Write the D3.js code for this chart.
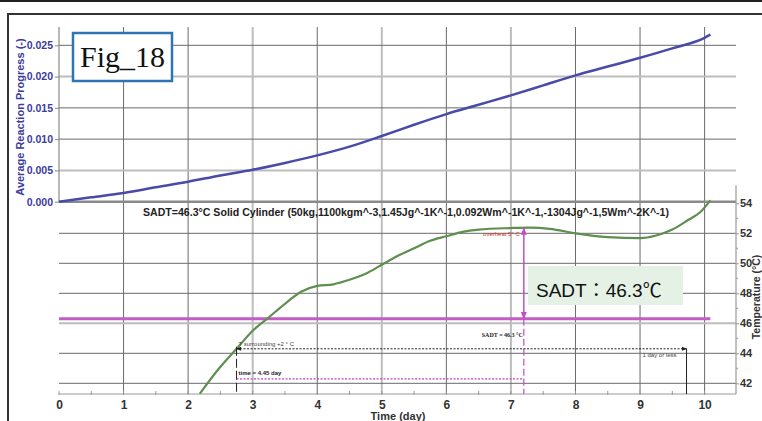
<!DOCTYPE html>
<html>
<head>
<meta charset="utf-8">
<script src="https://cdn.jsdelivr.net/npm/d3@7"></script>
<style>
  body { margin: 0; background: #fff; }
  svg { display: block; }
</style>
</head>
<body>
<svg id="chart" width="762" height="421"></svg>
<script>
//// Data

var progressDays = [0, 0.5, 1, 1.5, 2, 2.5, 3, 3.5, 4, 4.5, 5, 5.5, 6, 6.5, 7, 7.5, 8, 8.5, 9, 9.5, 10, 10.09];
var progress = [0, 0.0007, 0.0014, 0.0023, 0.0032, 0.0042, 0.0051, 0.0062, 0.0074, 0.0088, 0.0105, 0.0123,
                0.0140, 0.0155, 0.0170, 0.0186, 0.0202, 0.0216, 0.0230, 0.0245, 0.0262, 0.0267];

var tempDays = [2.18, 2.5, 2.75, 3, 3.25, 3.5, 3.75, 4, 4.25, 4.5, 4.75, 5, 5.25, 5.5, 5.75, 6, 6.25, 6.5,
                7, 7.3, 7.6, 8, 8.5, 9, 9.25, 9.5, 9.75, 9.93, 10.09];
var temps = [41.3, 43.1, 44.3, 45.5, 46.4, 47.3, 48.1, 48.5, 48.6, 48.9, 49.3, 49.9, 50.5, 51.0, 51.5, 51.8, 52.1, 52.25,
             52.35, 52.38, 52.3, 52.0, 51.75, 51.68, 51.85, 52.25, 52.9, 53.4, 54.2];

var xTicks = [0, 1, 2, 3, 4, 5, 6, 7, 8, 9, 10];
var progressTicks = [0, 0.005, 0.01, 0.015, 0.02, 0.025];
var tempTicks = [42, 44, 46, 48, 50, 52, 54];

// grid lines that print lighter and wider in the original
var lightDays = [3, 5, 7];
var lightProgress = [0.005, 0.02];
var lightTemps = [46];

var sadt = 46.3;
var tStart = 2.75, tEnd = 7.2, tLimit = 9.72;   // time = 4.45 day
var tSurround = 44.3, tTimeLine = 42.3;

var title = 'SADT=46.3\u00B0C Solid Cylinder (50kg,1100kgm^-3,1.45Jg^-1K^-1,0.092Wm^-1K^-1,-1304Jg^-1,5Wm^-2K^-1)';

//// Scales

var svg = d3.select('#chart');

// note: "top" is taken by window.top, so the edges get a prefix
var plotLeft = 59, plotRight = 736, plotTop = 27, plotMid = 202, plotBottom = 394;

var x = d3.scaleLinear().domain([0, 10]).range([59, 704.6]);
var yProg = d3.scaleLinear().domain([0, 0.025]).range([201.7, 45.3]);
var yTemp = d3.scaleLinear().domain([42, 54]).range([383.3, 203.3]);

var defs = svg.append('defs');
var addArrow = function (id, color) {
  defs.append('marker')
      .attr('id', id)
      .attr('viewBox', '0 0 10 10')
      .attr('refX', 9).attr('refY', 5)
      .attr('markerWidth', 5).attr('markerHeight', 5)
      .attr('orient', 'auto-start-reverse')
    .append('path')
      .attr('d', 'M0,1L10,5L0,9z')
      .attr('fill', color);
};
addArrow('arrowM', '#c050c0');
addArrow('arrowK', '#222');

defs.append('clipPath').attr('id', 'plotClip')
  .append('rect')
    .attr('x', plotLeft).attr('y', plotTop)
    .attr('width', plotRight - plotLeft).attr('height', plotBottom - plotTop);

//// Frame

svg.append('rect').attr('x', 0).attr('y', 0).attr('width', 762).attr('height', 2).attr('fill', '#222');
svg.append('path').attr('d', 'M8,421V14H762').attr('fill', 'none').attr('stroke', '#333').attr('stroke-width', 2);

//// Grid

var gridColor = function (list) {
  return function (d) { return list.indexOf(d) >= 0 ? '#bdbdbd' : '#6a6a6a'; };
};
var gridWidth = function (list) {
  return function (d) { return list.indexOf(d) >= 0 ? 2 : 1; };
};

var grid = svg.append('g');

grid.selectAll('.vg')
  .data(xTicks.slice(1))
  .enter().append('line')
    .attr('x1', function (d) { return x(d); })
    .attr('x2', function (d) { return x(d); })
    .attr('y1', plotTop).attr('y2', plotBottom)
    .attr('stroke', gridColor(lightDays))
    .attr('stroke-width', gridWidth(lightDays));

grid.selectAll('.hg')
  .data(progressTicks.slice(1))
  .enter().append('line')
    .attr('x1', plotLeft).attr('x2', plotRight)
    .attr('y1', function (d) { return yProg(d); })
    .attr('y2', function (d) { return yProg(d); })
    .attr('stroke', gridColor(lightProgress))
    .attr('stroke-width', gridWidth(lightProgress));

grid.selectAll('.tg')
  .data(tempTicks.slice(0, -1))
  .enter().append('line')
    .attr('x1', plotLeft).attr('x2', plotRight)
    .attr('y1', function (d) { return yTemp(d); })
    .attr('y2', function (d) { return yTemp(d); })
    .attr('stroke', gridColor(lightTemps))
    .attr('stroke-width', gridWidth(lightTemps));

// shared line: 0.000 / 54
svg.append('line')
    .attr('x1', plotLeft).attr('x2', plotRight)
    .attr('y1', yProg(0)).attr('y2', yProg(0))
    .attr('stroke', '#8a8a8a').attr('stroke-width', 2.5);

//// Axes

svg.append('line')
    .attr('x1', plotLeft).attr('x2', plotLeft).attr('y1', plotTop).attr('y2', plotMid)
    .attr('stroke', '#888').attr('stroke-width', 1.2);

var progAxis = svg.append('g')
    .attr('transform', 'translate(' + plotLeft + ',0)')
    .call(d3.axisLeft(yProg).tickValues(progressTicks).tickFormat(d3.format('.3f')).tickSize(4).tickPadding(2));
progAxis.select('.domain').remove();
progAxis.selectAll('line').attr('stroke', '#888');
progAxis.selectAll('text')
    .attr('fill', '#3b3ba0')
    .attr('font-family', 'Liberation Sans, Arial, sans-serif')
    .attr('font-weight', 'bold')
    .attr('font-size', 10.5);

svg.append('text')
    .attr('transform', 'translate(24,117) rotate(-90)')
    .attr('text-anchor', 'middle')
    .attr('fill', '#3b3ba0')
    .attr('font-family', 'Liberation Sans, Arial, sans-serif')
    .attr('font-weight', 'bold')
    .attr('font-size', 11)
    .text('Average Reaction Progress (-)');

// x axis
svg.append('line')
    .attr('x1', plotLeft).attr('x2', plotRight).attr('y1', plotBottom).attr('y2', plotBottom)
    .attr('stroke', '#999').attr('stroke-width', 1.2);

svg.selectAll('.minor')
  .data(d3.range(0, 10.5, 0.5))
  .enter().append('line')
    .attr('x1', function (d) { return x(d); })
    .attr('x2', function (d) { return x(d); })
    .attr('y1', plotBottom - 3).attr('y2', plotBottom + 1)
    .attr('stroke', '#999');

var xAxis = svg.append('g')
    .attr('transform', 'translate(0,' + plotBottom + ')')
    .call(d3.axisBottom(x).tickValues(xTicks).tickSize(0).tickPadding(6));
xAxis.select('.domain').remove();
xAxis.selectAll('text')
    .attr('fill', '#333')
    .attr('font-family', 'Liberation Sans, Arial, sans-serif')
    .attr('font-weight', 'bold')
    .attr('font-size', 12);

svg.append('text')
    .attr('x', 398).attr('y', 420)
    .attr('text-anchor', 'middle')
    .attr('fill', '#333')
    .attr('font-family', 'Liberation Sans, Arial, sans-serif')
    .attr('font-weight', 'bold')
    .attr('font-size', 11)
    .text('Time (day)');

// right temperature axis
svg.append('line')
    .attr('x1', plotRight).attr('x2', plotRight).attr('y1', yTemp(55.2)).attr('y2', plotBottom)
    .attr('stroke', '#999').attr('stroke-width', 1.2);

svg.selectAll('.tminor')
  .data(d3.range(43, 55, 2))
  .enter().append('line')
    .attr('x1', plotRight).attr('x2', plotRight + 2)
    .attr('y1', function (d) { return yTemp(d); })
    .attr('y2', function (d) { return yTemp(d); })
    .attr('stroke', '#999');

var tempAxis = svg.append('g')
    .attr('transform', 'translate(' + plotRight + ',0)')
    .call(d3.axisRight(yTemp).tickValues(tempTicks).tickFormat(d3.format('d')).tickSize(3).tickPadding(1));
tempAxis.select('.domain').remove();
tempAxis.selectAll('line').attr('stroke', '#999');
tempAxis.selectAll('text')
    .attr('fill', '#333')
    .attr('font-family', 'Liberation Sans, Arial, sans-serif')
    .attr('font-weight', 'bold')
    .attr('font-size', 11);

svg.append('text')
    .attr('transform', 'translate(760,297) rotate(-90)')
    .attr('text-anchor', 'middle')
    .attr('fill', '#333')
    .attr('font-family', 'Liberation Sans, Arial, sans-serif')
    .attr('font-weight', 'bold')
    .attr('font-size', 10.5)
    .text('Temperature (\u00B0C)');

//// Title

svg.append('text')
    .attr('x', 143).attr('y', 216)
    .attr('textLength', 526)
    .attr('lengthAdjust', 'spacingAndGlyphs')
    .attr('fill', '#222')
    .attr('font-family', 'Liberation Sans, Arial, sans-serif')
    .attr('font-weight', 'bold')
    .attr('font-size', 11)
    .text(title);

//// SADT line

svg.append('line')
    .attr('x1', x(0)).attr('x2', x(10.09))
    .attr('y1', yTemp(sadt)).attr('y2', yTemp(sadt))
    .attr('stroke', '#c55cc5').attr('stroke-width', 3);

//// Curves

var plot = svg.append('g').attr('clip-path', 'url(#plotClip)');

var tempLine = d3.line()
    .x(function (d, i) { return x(tempDays[i]); })
    .y(function (d) { return yTemp(d); })
    .curve(d3.curveMonotoneX);

plot.append('path')
    .attr('d', tempLine(temps))
    .attr('fill', 'none')
    .attr('stroke', '#5e8f4f')
    .attr('stroke-width', 2.2);

var progLine = d3.line()
    .x(function (d, i) { return x(progressDays[i]); })
    .y(function (d) { return yProg(d); })
    .curve(d3.curveMonotoneX);

svg.append('path')
    .attr('d', progLine(progress))
    .attr('fill', 'none')
    .attr('stroke', '#4a4aa8')
    .attr('stroke-width', 2.5);

//// Annotations

var tinyFont = 'Liberation Sans, Arial, sans-serif';

// overheat arrow
svg.append('line')
    .attr('x1', x(tEnd)).attr('x2', x(tEnd))
    .attr('y1', yTemp(sadt)).attr('y2', yTemp(52.36))
    .attr('stroke', '#c050c0').attr('stroke-width', 1.5)
    .attr('marker-start', 'url(#arrowM)')
    .attr('marker-end', 'url(#arrowM)');

svg.append('line')
    .attr('x1', x(tEnd)).attr('x2', x(tEnd))
    .attr('y1', yTemp(sadt)).attr('y2', plotBottom)
    .attr('stroke', '#c050c0').attr('stroke-width', 1.2)
    .attr('stroke-dasharray', '7,3');

svg.append('text')
    .attr('x', x(tEnd) - 4).attr('y', yTemp(52.36) + 8)
    .attr('text-anchor', 'end')
    .attr('fill', '#d03030')
    .attr('font-family', tinyFont).attr('font-size', 6)
    .text('overheat 5\u00B0 C');

svg.append('text')
    .attr('x', x(tEnd) - 1).attr('y', yTemp(sadt) + 18)
    .attr('text-anchor', 'end')
    .attr('fill', '#222')
    .attr('font-family', 'Liberation Serif, serif').attr('font-weight', 'bold').attr('font-size', 6)
    .text('SADT = 46.3 \u00B0C');

// T surrounding +2 line
svg.append('line')
    .attr('x1', x(tStart)).attr('x2', x(tStart))
    .attr('y1', yTemp(tSurround) - 2).attr('y2', plotBottom)
    .attr('stroke', '#222').attr('stroke-width', 1)
    .attr('stroke-dasharray', '9,3');

svg.append('line')
    .attr('x1', x(tStart)).attr('x2', x(tLimit))
    .attr('y1', yTemp(tSurround)).attr('y2', yTemp(tSurround))
    .attr('stroke', '#222').attr('stroke-width', 1)
    .attr('stroke-dasharray', '2,1.5')
    .attr('marker-start', 'url(#arrowK)')
    .attr('marker-end', 'url(#arrowK)');

svg.append('line')
    .attr('x1', x(tLimit)).attr('x2', x(tLimit))
    .attr('y1', yTemp(tSurround)).attr('y2', plotBottom)
    .attr('stroke', '#222').attr('stroke-width', 1);

svg.append('text')
    .attr('x', x(tStart) + 2).attr('y', yTemp(tSurround) - 3)
    .attr('fill', '#444')
    .attr('font-family', tinyFont).attr('font-size', 6)
    .text('T surrounding +2 \u00B0 C');

svg.append('text')
    .attr('x', x(tLimit) - 10).attr('y', yTemp(tSurround) + 8)
    .attr('text-anchor', 'end')
    .attr('fill', '#444')
    .attr('font-family', tinyFont).attr('font-size', 6)
    .text('1 day or less');

// time = 4.45 day line
svg.append('line')
    .attr('x1', x(tStart)).attr('x2', x(tEnd))
    .attr('y1', yTemp(tTimeLine)).attr('y2', yTemp(tTimeLine))
    .attr('stroke', '#c040c0').attr('stroke-width', 1.3)
    .attr('stroke-dasharray', '2,1.5');

svg.append('text')
    .attr('x', x(tStart) + 2).attr('y', yTemp(tTimeLine) - 4)
    .attr('fill', '#222')
    .attr('font-family', tinyFont).attr('font-weight', 'bold').attr('font-size', 6)
    .text('time = 4.45 day');

//// Boxes

svg.append('rect')
    .attr('x', 73).attr('y', 33).attr('width', 99).attr('height', 48)
    .attr('fill', '#fff').attr('stroke', '#2e75b6').attr('stroke-width', 2.5);

svg.append('text')
    .attr('x', 122.5).attr('y', 67)
    .attr('text-anchor', 'middle')
    .attr('fill', '#111')
    .attr('font-family', 'Liberation Serif, Times New Roman, serif')
    .attr('font-size', 30)
    .text('Fig_18');

svg.append('rect')
    .attr('x', 528).attr('y', 266).attr('width', 155).attr('height', 39)
    .attr('fill', '#e5f1e4');

svg.append('text')
    .attr('x', 536).attr('y', 297)
    .attr('fill', '#111')
    .attr('font-family', 'Liberation Sans, Noto Sans CJK JP, sans-serif')
    .attr('font-size', 19)
    .text('SADT\uFF1A46.3\u2103');
</script>
</body>
</html>
